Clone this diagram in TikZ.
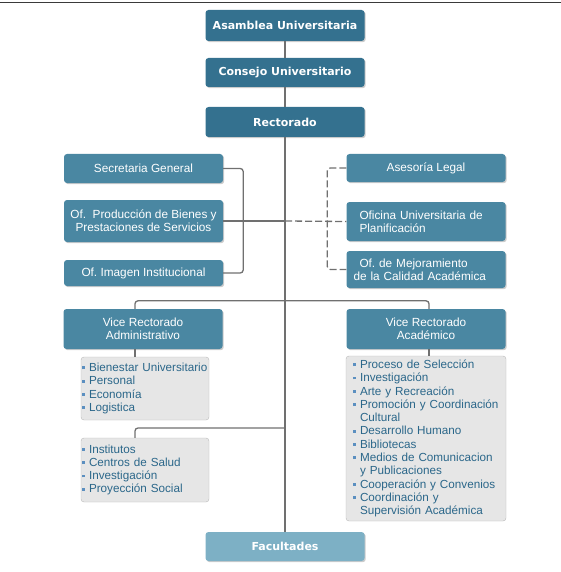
\documentclass[tikz,border=0pt]{standalone}
\usepackage{fontspec}
\setmainfont{Liberation Sans}
\newfontfamily\headfont{DejaVu Sans}
\usetikzlibrary{shadows}
\hyphenpenalty=10000
\exhyphenpenalty=10000
\frenchspacing
\newcommand\bul{\makebox[7pt][l]{\textcolor{color7}{\rule[2.3pt]{2.8pt}{2.8pt}}}}
\begin{document}
\begin{tikzpicture}[x=1pt,y=-1pt,
  box/.style={rounded corners=3pt,inner sep=0pt,minimum width=159pt,align=center,text=white,
    drop shadow={shadow xshift=1.2pt,shadow yshift=-1.2pt,opacity=.4}},
  headbox/.style={box,fill=color0,font=\headfont\bfseries\fontsize{11}{13}\selectfont},
  unitbox/.style={box,fill=color1,font=\fontsize{11.8}{13.3}\selectfont},
  leftunit/.style={unitbox,align=left,text width=145pt,inner xsep=7pt,minimum width=0pt},
  listbox/.style={rounded corners=3pt,fill=color4,draw=color5,inner ysep=0pt,align=left,
    text=color6,font=\fontsize{11.7}{13.3}\selectfont},
  link/.style={color3,line width=1.3pt},
  dlink/.style={link,dash pattern=on 7pt off 3pt}]
\definecolor{color0}{HTML}{34718F}
\definecolor{color1}{HTML}{4A87A2}
\definecolor{color2}{HTML}{7DB0C5}
\definecolor{color3}{HTML}{707070}
\definecolor{color4}{HTML}{E6E6E6}
\definecolor{color5}{HTML}{B9B9B9}
\definecolor{color6}{HTML}{2B678A}
\definecolor{color7}{HTML}{5B8FC0}
\definecolor{color8}{HTML}{3A3A3A}
\useasboundingbox (0,0) rectangle (561,572);
\draw[color8,line width=1.6pt] (0,2.5) -- (561,2.5);
\node[headbox,minimum height=31pt] (asam) at (285,25.5) {Asamblea Universitaria};
\node[headbox,minimum height=29pt] (cons) at (285,72.5) {Consejo Universitario};
\node[headbox,minimum height=30pt] (rec) at (285,122) {Rectorado};
\node[unitbox,minimum height=29pt] (sec) at (143.5,168.5) {Secretaria General};
\node[unitbox,minimum height=42pt] (prod) at (143.5,221) {Of.\ \ Producción de Bienes y\\Prestaciones de Servicios};
\node[unitbox,minimum height=26pt] (img) at (143.5,273) {Of. Imagen Institucional};
\node[unitbox,minimum height=28pt] (ase) at (426,168) {Asesoría Legal};
\node[leftunit,minimum height=39pt] (ofi) at (426,221.5) {\hspace*{6pt}Oficina Universitaria de\\\hspace*{6pt}Planificación};
\node[leftunit,minimum height=37pt] (mej) at (426,269.5) {\hspace*{6pt}Of. de Mejoramiento\\de la Calidad Académica};
\node[unitbox,minimum height=40pt] (vra) at (143,329) {Vice Rectorado\\Administrativo};
\node[unitbox,minimum height=40pt] (vrac) at (426,329) {Vice Rectorado\\Académico};
\node[listbox,text width=126pt,inner xsep=1pt,minimum height=63pt] (lista) at (145,388.5)
  {\bul Bienestar Universitario\\\bul Personal\\\bul Economía\\\bul Logistica};
\node[listbox,text width=126pt,inner xsep=1pt,minimum height=64pt] (listb) at (145,470)
  {\bul Institutos\\\bul Centros de Salud\\\bul Investigación\\\bul Proyección Social};
\node[listbox,text width=146pt,inner xsep=7pt,minimum height=165pt] (listc) at (426,438.5)
  {\bul Proceso de Selección\\\bul Investigación\\\bul Arte y Recreación\\
   \bul Promoción y Coordinación\\\hspace*{7pt}Cultural\\\bul Desarrollo Humano\\
   \bul Bibliotecas\\\bul Medios de Comunicacion\\\hspace*{7pt}y Publicaciones\\
   \bul Cooperación y Convenios\\\bul Coordinación y\\\hspace*{7pt}Supervisión Académica};
\node[headbox,fill=color2,minimum height=29pt] (fac) at (285,546.5) {Facultades};
\draw[link] (asam) -- (cons);
\draw[link] (cons) -- (rec);
\draw[link] (rec) -- (fac);
\draw[link,rounded corners=3pt] (sec.east) -- ++(20,0) |- (img.east);
\draw[link] (prod.east) -- (prod.east -| rec.south);
\draw[dlink] (prod.east -| rec.south) -- (ofi.west);
\draw[dlink,rounded corners=3pt] (ase.west) -- ++(-19,0) |- (mej.west);
\draw[link,rounded corners=3pt] ([xshift=-8pt]vra.north) -- ++(0,-8) -| ([xshift=3pt]vrac.north);
\draw[link] ([xshift=-8pt]vra.south) -- ([xshift=-10pt]lista.north);
\draw[link] ([xshift=3pt]vrac.south) -- ([xshift=3pt]listc.north);
\draw[link,rounded corners=3pt] (rec.south |- 0,428) -| ([xshift=-10pt]listb.north);
\end{tikzpicture}
\end{document}
